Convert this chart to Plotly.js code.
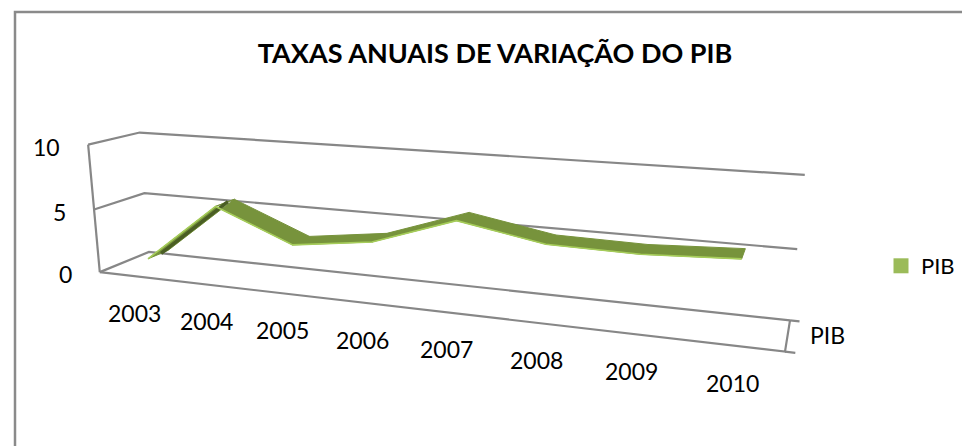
<!DOCTYPE html>
<html><head><meta charset="utf-8">
<script src="https://cdn.plot.ly/plotly-3.0.1.min.js"></script>
<style>html,body{margin:0;padding:0;background:#fff;overflow:hidden}#chart{width:962px;height:446px}</style>
</head><body><div id="chart"></div>
<script>
// ---- data ----
const years = ['2003','2004','2005','2006','2007','2008','2009','2010'];
const pib = [0.9, 5.6, 3.2, 4.0, 6.1, 5.0, 4.9, 5.2];
const valueTicks = [0, 5, 10];
const valueMax = 10;
const seriesName = 'PIB';
const chartTitle = 'TAXAS ANUAIS DE VARIAÇÃO DO PIB';

// ---- 3D frame placement (layout): unit-cube corners (u: categories, v: depth, w: value) -> page pixels ----
const frameCalib = [
  [0,0,0, 99,272],[0,0,0.5, 95,209],[0,0,1, 88,145],
  [0,1,0, 150,253],[0,1,0.5, 143,192],[0,1,1, 140,133],
  [1,1,0, 790,320],[1,1,0.5, 797,249],[1,1,1, 805,175],
  [1,0,0, 785,352]
];
function solve(A, b) {
  const n = b.length, M = A.map((r, i) => r.concat([b[i]]));
  for (let c = 0; c < n; c++) {
    let p = c; for (let r = c + 1; r < n; r++) if (Math.abs(M[r][c]) > Math.abs(M[p][c])) p = r;
    [M[c], M[p]] = [M[p], M[c]];
    for (let r = 0; r < n; r++) if (r !== c) { const f = M[r][c] / M[c][c]; for (let k = c; k <= n; k++) M[r][k] -= f * M[c][k]; }
  }
  return M.map((r, i) => r[n] / r[i]);
}
function fitProjection(pts) {
  const rows = [], rhs = [];
  pts.forEach(([u, v, w, sx, sy]) => {
    rows.push([u, v, w, 1, 0, 0, 0, 0, -sx * u, -sx * v, -sx * w]); rhs.push(sx);
    rows.push([0, 0, 0, 0, u, v, w, 1, -sy * u, -sy * v, -sy * w]); rhs.push(sy);
  });
  const N = 11, AtA = [], Atb = [];
  for (let i = 0; i < N; i++) { AtA.push(new Array(N).fill(0)); Atb.push(0); }
  rows.forEach((r, k) => { for (let i = 0; i < N; i++) { Atb[i] += r[i] * rhs[k]; for (let j = 0; j < N; j++) AtA[i][j] += r[i] * r[j]; } });
  const q = solve(AtA, Atb);
  return (u, v, w) => { const d = q[8] * u + q[9] * v + q[10] * w + 1;
    return [(q[0] * u + q[1] * v + q[2] * w + q[3]) / d, (q[4] * u + q[5] * v + q[6] * w + q[7]) / d]; };
}
const P = fitProjection(frameCalib);
const nCat = years.length;
const uOf = i => (i + 0.5) / nCat;
const wOf = val => val / valueMax;

// ---- build traces ----
function polyline(pts) { const x = [], y = []; pts.forEach(p => { if (p) { x.push(p[0]); y.push(p[1]); } else { x.push(null); y.push(null); } }); return {x, y}; }
const gridPts = [];
valueTicks.forEach(t => { const w = wOf(t); gridPts.push(P(0, 0, w), P(0, 1, w), P(1, 1, w), null); });
const framePts = [P(0, 0, 0), P(0, 0, 1), null, P(0, 0, 0), P(1, 0, 0), P(1, 1, 0), null,
  P(1, 0, 0), P(1.012, 0, 0), null, P(1, 1, 0), P(1.012, 1, 0)];
const lineGray = {color: '#878787', width: 2.2};
const grid = Object.assign({type: 'scatter', mode: 'lines', line: lineGray, hoverinfo: 'skip', showlegend: false}, polyline(gridPts));
const frame = Object.assign({type: 'scatter', mode: 'lines', line: lineGray, hoverinfo: 'skip', showlegend: false}, polyline(framePts));

const h = 0.21;
const quads = [], steepBack = [];
for (let i = 0; i < nCat - 1; i++) {
  const a = uOf(i), b = uOf(i + 1), wa = wOf(pib[i]), wb = wOf(pib[i + 1]);
  quads.push(P(a, 0.5 - h, wa), P(b, 0.5 - h, wb), P(b, 0.5 + h, wb), P(a, 0.5 + h, wa), P(a, 0.5 - h, wa), null);
  if (pib[i + 1] - pib[i] > 3) steepBack.push(P(a, 0.5 + h * 0.3, wa), P(b, 0.5 + h * 0.3, wb), null);
}
const ribbon = Object.assign({type: 'scatter', mode: 'lines', fill: 'toself', fillcolor: '#77933C',
  line: {color: '#77933C', width: 1}, hoverinfo: 'skip', showlegend: false}, polyline(quads));
const ribbonSide = Object.assign({type: 'scatter', mode: 'lines', line: {color: '#4A5E24', width: 3.5}, hoverinfo: 'skip', showlegend: false},
  polyline(steepBack));
const edge = Object.assign({type: 'scatter', mode: 'lines', line: {color: '#A6CD5A', width: 1.6}, hoverinfo: 'skip', showlegend: false},
  polyline(pib.map((val, i) => P(uOf(i), 0.5 - h, wOf(val)))));
const legendItem = {type: 'scatter', mode: 'markers', x: [null], y: [null], name: seriesName,
  marker: {symbol: 'square', size: 15, color: '#9BBB59'}, showlegend: true};

// ---- labels ----
const font = {family: 'Lato, sans-serif', size: 23, color: '#000'};
const annotations = [];
years.forEach((t, i) => { const p = P(uOf(i), 0, 0); annotations.push({x: p[0], y: p[1], xref: 'x', yref: 'y', text: t, showarrow: false, yshift: -37, font}); });
valueTicks.forEach(t => { const p = P(0, 0, wOf(t)); annotations.push({x: p[0], y: p[1], xref: 'x', yref: 'y', text: String(t), showarrow: false, xanchor: 'right', xshift: -26, yshift: -2, font}); });
{ const p = P(1, 0.5, 0); annotations.push({x: p[0], y: p[1], xref: 'x', yref: 'y', text: seriesName, showarrow: false, xanchor: 'left', xshift: 20, font}); }

const layout = {
  width: 962, height: 446, margin: {l: 0, r: 0, t: 0, b: 0}, paper_bgcolor: '#fff', plot_bgcolor: '#fff',
  title: {text: chartTitle, x: 0.5146, xanchor: 'center', y: 1 - 54 / 446, yanchor: 'middle',
    font: {family: 'Lato, sans-serif', size: 27, weight: 'bold', color: '#000'}},
  showlegend: true,
  legend: {x: 0.9158, y: 0.4036, xanchor: 'left', yanchor: 'middle', font: {family: 'Lato, sans-serif', size: 22, color: '#000'}, bgcolor: 'rgba(0,0,0,0)'},
  xaxis: {range: [0, 962], visible: false, fixedrange: true},
  yaxis: {range: [446, 0], visible: false, fixedrange: true},
  annotations,
  shapes: [{type: 'rect', xref: 'paper', yref: 'paper', x0: 15 / 962, x1: 1.05, y0: -0.05, y1: 1 - 12 / 446,
    line: {color: '#8a8a8a', width: 2.5}, fillcolor: 'rgba(0,0,0,0)'}]
};
Plotly.newPlot('chart', [grid, frame, ribbon, ribbonSide, edge, legendItem], layout, {displayModeBar: false, staticPlot: true});
</script></body></html>
